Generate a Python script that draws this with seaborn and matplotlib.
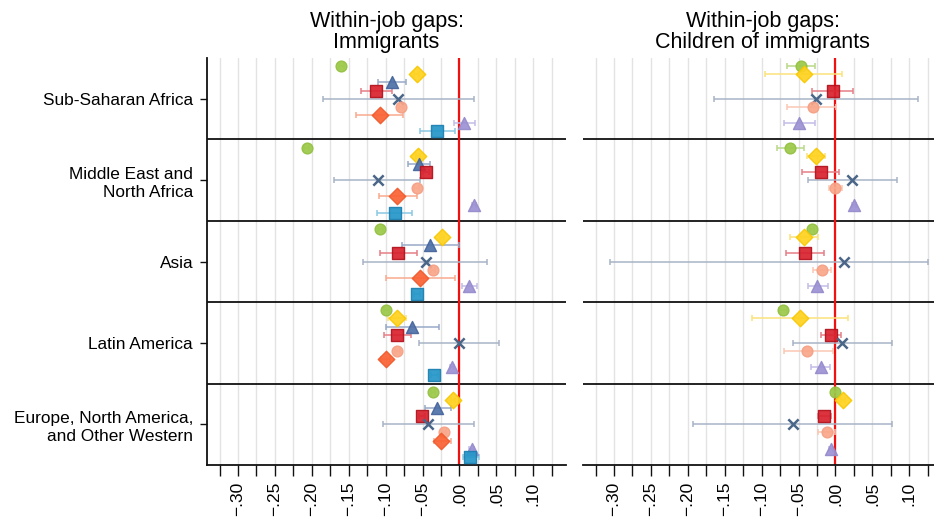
import numpy as np
import matplotlib
matplotlib.use("Agg")
import matplotlib.pyplot as plt
import seaborn as sns

regions = ["Sub-Saharan Africa", "Middle East and\nNorth Africa", "Asia",
           "Latin America", "Europe, North America,\nand Other Western"]
series = ["s1", "s2", "s3", "s4", "s5", "s6", "s7", "s8", "s9"]
xtick_vals = [-0.30, -0.25, -0.20, -0.15, -0.10, -0.05, 0.00, 0.05, 0.10]
xtick_labels = ["\u2212.30", "\u2212.25", "\u2212.20", "\u2212.15", "\u2212.10",
                "\u2212.05", ".00", ".05", ".10"]
titles = ["Within-job gaps:\nImmigrants", "Within-job gaps:\nChildren of immigrants"]

nan = np.nan
# Panel 1: immigrants
imm_est = {
    "s1": [-0.160, -0.207, -0.107, -0.099, -0.036],
    "s2": [-0.058, -0.056, -0.024, -0.084, -0.009],
    "s3": [-0.092, -0.055, -0.040, -0.064, -0.030],
    "s4": [-0.113, -0.045, -0.083, -0.084, -0.051],
    "s5": [-0.083, -0.111, -0.046, -0.001, -0.043],
    "s6": [-0.079, -0.058, -0.036, -0.084, -0.021],
    "s7": [-0.108, -0.084, -0.053, -0.100, -0.025],
    "s8": [0.0065, 0.020, 0.013, -0.010, 0.0165],
    "s9": [-0.030, -0.088, -0.058, -0.034, 0.0147],
}
imm_lo = {
    "s1": [-0.163, -0.210, -0.110, -0.102, -0.039],
    "s2": [-0.061, -0.059, -0.027, -0.097, -0.012],
    "s3": [-0.111, -0.070, -0.078, -0.100, -0.047],
    "s4": [-0.133, -0.049, -0.107, -0.102, -0.055],
    "s5": [-0.185, -0.170, -0.131, -0.055, -0.104],
    "s6": [-0.082, -0.061, -0.039, -0.088, -0.024],
    "s7": [-0.140, -0.109, -0.099, -0.106, -0.035],
    "s8": [-0.007, 0.017, 0.004, -0.013, 0.0135],
    "s9": [-0.053, -0.112, -0.062, -0.039, 0.005],
}
imm_hi = {
    "s1": [-0.157, -0.204, -0.104, -0.096, -0.033],
    "s2": [-0.055, -0.053, -0.021, -0.072, -0.006],
    "s3": [-0.072, -0.040, -0.001, -0.028, -0.012],
    "s4": [-0.091, -0.041, -0.058, -0.066, -0.047],
    "s5": [0.020, -0.053, 0.037, 0.053, 0.019],
    "s6": [-0.076, -0.055, -0.033, -0.080, -0.018],
    "s7": [-0.076, -0.058, -0.006, -0.094, -0.012],
    "s8": [0.021, 0.023, 0.024, -0.007, 0.0195],
    "s9": [-0.006, -0.064, -0.054, -0.029, 0.027],
}
# Panel 2: children of immigrants
chi_est = {
    "s1": [-0.047, -0.062, -0.032, -0.071, -0.001],
    "s2": [-0.043, -0.027, -0.042, -0.048, 0.010],
    "s3": [nan, nan, nan, nan, nan],
    "s4": [-0.003, -0.020, -0.041, -0.006, -0.016],
    "s5": [-0.027, 0.023, 0.011, 0.009, -0.058],
    "s6": [-0.031, 0.000, -0.018, -0.038, -0.012],
    "s7": [nan, nan, nan, nan, nan],
    "s8": [-0.049, 0.025, -0.025, -0.020, -0.006],
    "s9": [nan, nan, nan, nan, nan],
}
chi_lo = {
    "s1": [-0.065, -0.079, -0.035, -0.077, -0.004],
    "s2": [-0.095, -0.038, -0.062, -0.113, 0.007],
    "s3": [nan, nan, nan, nan, nan],
    "s4": [-0.032, -0.045, -0.067, -0.020, -0.024],
    "s5": [-0.164, -0.037, -0.305, -0.057, -0.193],
    "s6": [-0.066, -0.009, -0.030, -0.070, -0.024],
    "s7": [nan, nan, nan, nan, nan],
    "s8": [-0.070, 0.022, -0.037, -0.033, -0.009],
    "s9": [nan, nan, nan, nan, nan],
}
chi_hi = {
    "s1": [-0.028, -0.043, -0.029, -0.065, 0.002],
    "s2": [0.009, -0.014, -0.023, 0.017, 0.013],
    "s3": [nan, nan, nan, nan, nan],
    "s4": [0.024, 0.005, -0.015, 0.008, -0.006],
    "s5": [0.112, 0.084, 0.126, 0.076, 0.076],
    "s6": [0.001, 0.009, -0.006, -0.004, 0.000],
    "s7": [nan, nan, nan, nan, nan],
    "s8": [-0.028, 0.028, -0.010, -0.008, -0.003],
    "s9": [nan, nan, nan, nan, nan],
}

# styles
markers = {"s1": "o", "s2": "D", "s3": "^", "s4": "s", "s5": "X",
           "s6": "o", "s7": "D", "s8": "^", "s9": "s"}
colors = {"s1": "#9CC94A", "s2": "#FFD21F", "s3": "#4E70A8", "s4": "#D8222E",
          "s5": "#4A6688", "s6": "#F9A78A", "s7": "#FA6234", "s8": "#9C92D4",
          "s9": "#2596C8"}
edges = {"s1": "#93C040", "s2": "#F8C800", "s3": "#45659C", "s4": "#B3121C",
         "s5": "#4A6688", "s6": "#F5A084", "s7": "#F05A2C", "s8": "#958BCC",
         "s9": "#1B7FB0"}
errcols = {"s1": "#B9DA88", "s2": "#FBE37A", "s3": "#98AAC8", "s4": "#E57F86",
           "s5": "#A7B4C6", "s6": "#FAC7B5", "s7": "#F8AA8E", "s8": "#C3BDE6",
           "s9": "#8CC7E2"}
sizes = {"s1": 60, "s2": 70, "s3": 75, "s4": 68, "s5": 55,
         "s6": 60, "s7": 70, "s8": 75, "s9": 68}

sns.set_theme(style="white")
plt.rcParams["font.family"] = ["Liberation Sans", "DejaVu Sans"]
plt.rcParams["text.color"] = "black"
plt.rcParams["xtick.color"] = "black"
plt.rcParams["ytick.color"] = "black"

fig = plt.figure(figsize=(9.34, 5.17), dpi=100)
W, H = 934, 517
ax1 = fig.add_axes([207 / W, 52 / H, 359 / W, 407 / H])
ax2 = fig.add_axes([583 / W, 52 / H, 359 / W, 407 / H])

panels = [(ax1, imm_est, imm_lo, imm_hi), (ax2, chi_est, chi_lo, chi_hi)]
nreg = len(regions)
for pi, (ax, est, lo, hi) in enumerate(panels):
    ax.set_xlim(-0.342, 0.1443)
    ax.set_ylim(nreg - 0.5, -0.5)
    for g in np.arange(-0.325, 0.13, 0.025):
        ax.axvline(g, color="#E3E3E3", lw=1.0, zorder=0)
    for b in np.arange(0.5, nreg - 0.5, 1.0):
        ax.axhline(b, color="#111111", lw=1.3, zorder=1)
    ax.axvline(0, color="#F01010", lw=1.6, zorder=2)
    for k, s in enumerate(series):
        e = np.array(est[s], dtype=float)
        l = np.array(lo[s], dtype=float)
        h = np.array(hi[s], dtype=float)
        ypos = np.arange(nreg) + (k - 4) * 0.1
        ok = ~np.isnan(e)
        if not ok.any():
            continue
        ax.errorbar(e[ok], ypos[ok], xerr=[e[ok] - l[ok], h[ok] - e[ok]], fmt="none",
                    ecolor=errcols[s], elinewidth=1.1, capsize=2, capthick=1.1, zorder=3)
        if markers[s] == "X":
            sns.scatterplot(x=e[ok], y=ypos[ok], marker="x", color=colors[s],
                            s=sizes[s], linewidth=1.8, ax=ax, zorder=4, legend=False)
        else:
            sns.scatterplot(x=e[ok], y=ypos[ok], marker=markers[s], color=colors[s],
                            edgecolor=edges[s], linewidth=1.0, s=sizes[s], alpha=0.92,
                            ax=ax, zorder=4, legend=False)
    ax.set_xticks(xtick_vals)
    ax.set_xticklabels(xtick_labels, rotation=90, fontsize=12.5)
    ax.set_xticks(np.arange(-0.325, 0.13, 0.025), minor=True)
    ax.tick_params(axis="x", which="both", bottom=True, length=8, width=1.0,
                   color="#111111", direction="out", pad=4)
    ax.set_title(titles[pi], fontsize=15.5, pad=7, linespacing=1.0, color="black")
    for sp in ["top", "right"]:
        ax.spines[sp].set_visible(False)
    ax.spines["bottom"].set_color("#111111")
    ax.spines["bottom"].set_linewidth(1.3)
    ax.set_xlabel("")
    ax.set_ylabel("")
    if pi == 0:
        ax.set_yticks(range(nreg))
        ax.set_yticklabels(regions, fontsize=12.4, ha="right", multialignment="right",
                           linespacing=1.3)
        ax.tick_params(axis="y", left=True, length=5, width=1.0, color="#111111", pad=5)
        ax.spines["left"].set_color("#111111")
        ax.spines["left"].set_linewidth(1.3)
    else:
        ax.set_yticks([])
        ax.spines["left"].set_visible(False)
    ax.grid(False)

fig.savefig("out.png", dpi=100)
